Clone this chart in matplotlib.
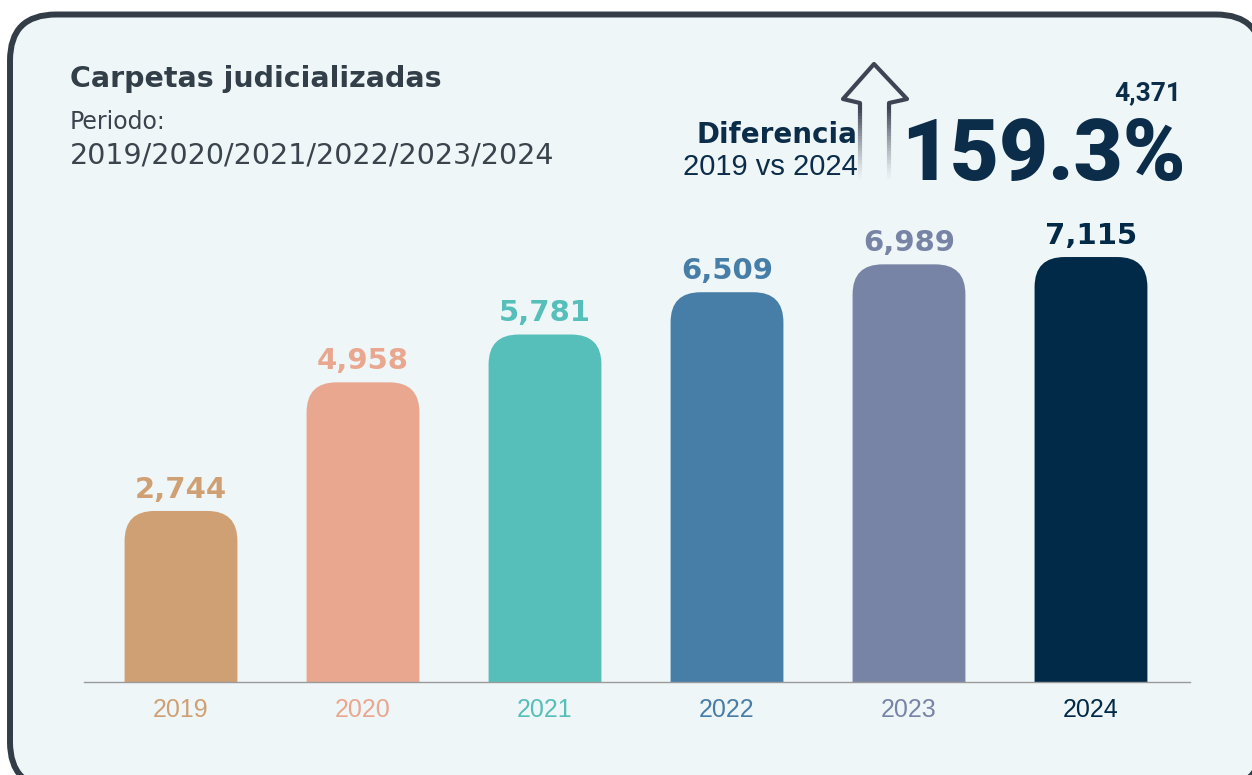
import numpy as np
import matplotlib.pyplot as plt
from matplotlib.patches import FancyBboxPatch
from matplotlib.lines import Line2D

# data
years = ['2019', '2020', '2021', '2022', '2023', '2024']
carpetas = [2744, 4958, 5781, 6509, 6989, 7115]
colores = ['#cfa073', '#e9a78f', '#56bfba', '#477ea7', '#7884a6', '#002a47']
diferencia = 4371
porcentaje = 159.3

W, H = 1252, 775
fig = plt.figure(figsize=(W / 100, H / 100), dpi=100)
fig.patch.set_facecolor('white')


def fx(x):
    return x / W


def fy(y):
    return 1 - y / H


# card background
card = FancyBboxPatch((10 / 100, (H - 788) / 100), (1262 - 10) / 100, (788 - 14.5) / 100,
                      boxstyle='round,pad=0,rounding_size=0.46',
                      transform=fig.dpi_scale_trans, facecolor='#eff6f8',
                      edgecolor='#333d47', linewidth=4.3, zorder=0)
fig.add_artist(card)

# bars
ymin, ymax = -200, 8000
ax = fig.add_axes([fx(84), fy(682), 1106 / W, 0.6147])
ax.set_facecolor('none')
ax.set_xlim(-0.533, 5.544)
ax.set_ylim(ymin, ymax)

x = np.arange(len(years))
vals = np.array(carpetas)
bars = ax.bar(x, vals + 1200, bottom=-1200, width=0.62)

# rounded tops
r_px = 30
rx = r_px * (ax.get_xlim()[1] - ax.get_xlim()[0]) / 1106
ry = r_px * (ymax - ymin) / (0.6147 * H)
for rect, c in zip(bars, colores):
    rect.set_visible(False)
    p = FancyBboxPatch((rect.get_x(), rect.get_y()), rect.get_width(), rect.get_height(),
                       boxstyle=f'round,pad=0,rounding_size={rx}',
                       mutation_aspect=ry / rx, facecolor=c, edgecolor='none')
    ax.add_patch(p)

for xi, v, c in zip(x, carpetas, colores):
    ax.annotate(f'{v:,}', (xi, v), xytext=(0, 9.5), textcoords='offset points',
                ha='center', va='baseline', fontsize=21, fontweight='bold', color=c)

for s in ['top', 'right', 'left']:
    ax.spines[s].set_visible(False)
ax.spines['bottom'].set_color('#9a9a9a')
ax.spines['bottom'].set_linewidth(1)
ax.set_yticks([])
ax.set_xticks(x, years)
ax.tick_params(axis='x', length=0, pad=11.5)
for lab, c in zip(ax.get_xticklabels(), colores):
    lab.set_color(c)
    lab.set_fontsize(18)
    lab.set_family('Liberation Sans')

# header texts
fig.text(fx(70), fy(87), 'Carpetas judicializadas', fontsize=20.5, fontweight='bold',
         color='#333f48', va='baseline')
fig.text(fx(70), fy(129), 'Periodo:', fontsize=17, color='#3a444d', va='baseline')
fig.text(fx(70), fy(164), '/'.join(years), fontsize=20.5, color='#3a444d', va='baseline')

fig.text(fx(857), fy(143), 'Diferencia', fontsize=20, fontweight='bold',
         color='#0b2d4a', ha='right', va='baseline')
fig.text(fx(858), fy(175), f'{years[0]} vs {years[-1]}', fontsize=21,
         family='Liberation Sans', color='#0b2d4a', ha='right', va='baseline')
fig.text(fx(1181), fy(100), f'{diferencia:,}', fontsize=19, fontweight='bold',
         family='Roboto', color='#0b2d4a', ha='right', va='baseline')

# arrow
acol = '#3d4554'
head_x = [860, 860, 843, 874, 907, 889, 889]
head_y = [110, 103, 99, 64, 99, 103, 110]
fig.add_artist(Line2D([fx(v) for v in head_x], [fy(v) for v in head_y], color=acol,
                      lw=3, solid_joinstyle='round', solid_capstyle='butt', zorder=2))
steps = np.linspace(110, 180, 25)
for i in range(len(steps) - 1):
    a = (1 - (i + 1) / len(steps)) ** 1.3
    for sx in (860, 889):
        fig.add_artist(Line2D([fx(sx), fx(sx)], [fy(steps[i]), fy(steps[i + 1])],
                              color=acol, alpha=a, lw=3, solid_capstyle='butt', zorder=2))

fig.text(fx(1186), fy(180), f'{porcentaje}%', fontsize=61, fontweight='black',
         family='Roboto', color='#0b2d4a', ha='right', va='baseline', zorder=3)

fig.savefig('out.png', dpi=100)
